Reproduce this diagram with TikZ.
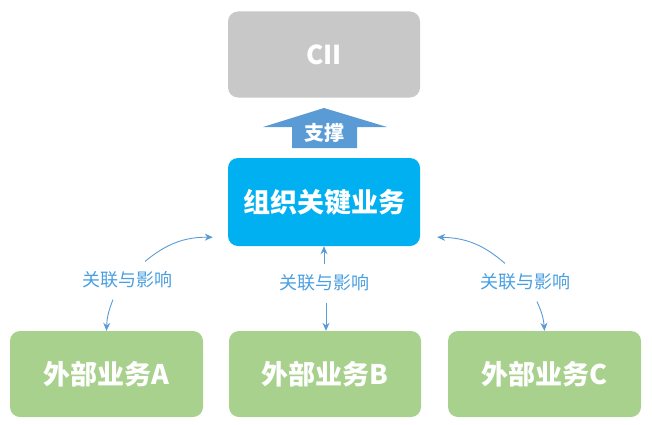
\documentclass[tikz,border=0pt]{standalone}
\usepackage{fontspec}
\newfontfamily\cjk{Noto Sans CJK SC}
\usetikzlibrary{arrows.meta}
\definecolor{ciigray}{HTML}{C8C8C8}
\definecolor{keyblue}{HTML}{00B0F0}
\definecolor{bizgreen}{HTML}{A9D18E}
\definecolor{supblue}{HTML}{5B9BD5}
\definecolor{lbltext}{HTML}{4A9FE0}
\begin{document}
\begin{tikzpicture}[x=1pt,y=1pt,
		box/.style={rounded corners=10pt,minimum width=192pt,minimum height=86pt,inner sep=0pt,text=white,font=\cjk\bfseries\fontsize{27}{32}\selectfont},
		lbl/.style={inner sep=0pt,text=lbltext,font=\cjk\fontsize{18}{21}\selectfont},
		link/.style={supblue,line width=0.9pt,-{Stealth[length=8pt,width=7pt]}}]
		\useasboundingbox (0,0) rectangle (652,424);
		\node[box,fill=ciigray,font=\cjk\bfseries\fontsize{26}{30}\selectfont] (cii) at (324,369.5) {CII};
		\node[box,fill=keyblue,minimum height=88pt] (key) at (324,222) {组织关键业务};
		\node[box,fill=bizgreen,minimum width=193pt] (ba) at (106.5,50) {外部业务A};
		\node[box,fill=bizgreen] (bb) at (325,50) {外部业务B};
		\node[box,fill=bizgreen,minimum width=193pt] (bc) at (544.5,50) {外部业务C};
		
		\fill[supblue] (324,316) -- (387,297) -- (357,297) -- (357,276) -- (292,276) -- (292,297) -- (263,297) -- cycle;
		\node[text=white,font=\cjk\bfseries\fontsize{20}{24}\selectfont] (sup) at (324,291) {支撑};
		
		\node[lbl] (la) at (127,144) {关联与影响};
		\node[lbl] (lb) at (324,141) {关联与影响};
		\node[lbl] (lc) at (525,142) {关联与影响};
		
		\draw[link] ([xshift=18pt,yshift=10pt]la.north) to[bend left=20] ([xshift=-15pt,yshift=9pt]key.south west);
		\draw[link] ([xshift=-14pt,yshift=-11pt]la.south) to[bend right=10] (ba.north);
		\draw[link] ([yshift=10pt]lb.north) -- (key.south);
		\draw[link] ([xshift=2pt,yshift=-11pt]lb.south) -- ([xshift=1pt]bb.north);
		\draw[link] ([xshift=-20pt,yshift=10pt]lc.north) to[bend right=20] ([xshift=17pt,yshift=9pt]key.south east);
		\draw[link] ([xshift=12pt,yshift=-11pt]lc.south) to[bend left=10] (bc.north);
\end{tikzpicture}
\end{document}
